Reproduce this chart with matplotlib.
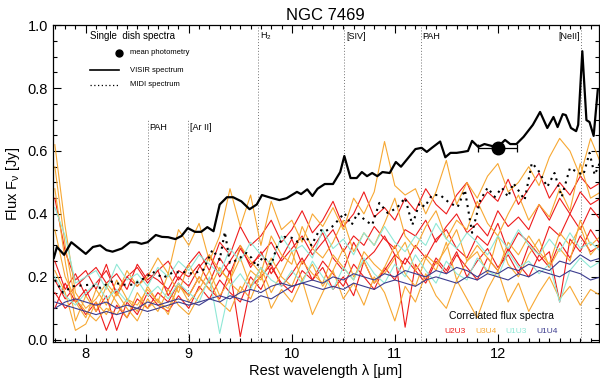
import numpy as np
import matplotlib
matplotlib.use("Agg")
import matplotlib.pyplot as plt
from matplotlib.ticker import MultipleLocator

plt.rcParams['font.family'] = ['Liberation Sans', 'DejaVu Sans']
plt.rcParams['mathtext.default'] = 'regular'

# ---------------- single dish spectra ----------------
visir_wl = [7.69, 7.72, 7.79, 7.86, 8.00, 8.07, 8.14, 8.20, 8.26, 8.35, 8.43, 8.49, 8.54, 8.60,
            8.68, 8.74, 8.80, 8.87, 8.93, 8.99, 9.06, 9.12, 9.18, 9.24, 9.30, 9.37, 9.43, 9.51,
            9.59, 9.66, 9.71, 9.79, 9.88, 9.95, 10.05, 10.09, 10.15, 10.20, 10.25, 10.32, 10.40,
            10.47, 10.51, 10.57, 10.63, 10.68, 10.73, 10.78, 10.83, 10.88, 10.95, 11.01, 11.06,
            11.13, 11.20, 11.26, 11.31, 11.36, 11.44, 11.49, 11.54, 11.60, 11.66, 11.71, 11.75,
            11.81, 11.87, 11.94, 12.00, 12.07, 12.12, 12.18, 12.25, 12.34, 12.41, 12.48, 12.54,
            12.58, 12.63, 12.66, 12.71, 12.76, 12.78, 12.82, 12.86, 12.89, 12.93, 12.97]
visir_flux = [0.26, 0.295, 0.27, 0.31, 0.273, 0.295, 0.30, 0.285, 0.28, 0.29, 0.31, 0.31, 0.305,
              0.31, 0.333, 0.327, 0.326, 0.32, 0.33, 0.355, 0.343, 0.343, 0.358, 0.345, 0.43,
              0.453, 0.453, 0.44, 0.415, 0.43, 0.46, 0.452, 0.444, 0.45, 0.47, 0.463, 0.478,
              0.457, 0.48, 0.495, 0.495, 0.533, 0.584, 0.514, 0.514, 0.533, 0.52, 0.53, 0.52,
              0.533, 0.53, 0.565, 0.55, 0.578, 0.606, 0.61, 0.597, 0.61, 0.63, 0.58, 0.594,
              0.594, 0.597, 0.60, 0.632, 0.613, 0.622, 0.616, 0.613, 0.635, 0.622, 0.622, 0.645,
              0.683, 0.724, 0.673, 0.708, 0.676, 0.717, 0.714, 0.673, 0.663, 0.683, 0.917,
              0.698, 0.692, 0.648, 0.794]

midi_wl = [7.70, 7.78, 7.87, 8.04, 8.14, 8.25, 8.35, 8.46, 8.59, 8.65, 8.75, 8.84, 8.94, 9.04,
           9.14, 9.23, 9.30, 9.35, 9.40, 9.47, 9.56, 9.61, 9.66, 9.72, 9.80, 9.86, 9.93, 10.00,
           10.06, 10.14, 10.19, 10.27, 10.32, 10.39, 10.45, 10.51, 10.58, 10.64, 10.71, 10.78,
           10.85, 10.93, 11.02, 11.10, 11.17, 11.24, 11.29, 11.36, 11.44, 11.53, 11.61, 11.68,
           11.75, 11.83, 11.90, 11.97, 12.04, 12.10, 12.15, 12.21, 12.26, 12.33, 12.39, 12.48,
           12.55, 12.62, 12.70, 12.77, 12.83, 12.89, 12.94, 12.99]
midi_flux = [0.19, 0.15, 0.17, 0.175, 0.165, 0.185, 0.175, 0.175, 0.20, 0.216, 0.197, 0.213,
             0.216, 0.21, 0.222, 0.286, 0.254, 0.343, 0.244, 0.254, 0.276, 0.26, 0.232, 0.264,
             0.238, 0.30, 0.327, 0.324, 0.311, 0.327, 0.30, 0.35, 0.343, 0.359, 0.38, 0.403,
             0.365, 0.403, 0.38, 0.365, 0.435, 0.403, 0.419, 0.451, 0.365, 0.435, 0.422, 0.46,
             0.46, 0.435, 0.422, 0.476, 0.34, 0.444, 0.483, 0.454, 0.483, 0.454, 0.498, 0.47,
             0.444, 0.562, 0.54, 0.486, 0.53, 0.454, 0.546, 0.533, 0.524, 0.594, 0.524, 0.562]

phot_wl = 12.0
phot_flux = 0.61
phot_xerr = 0.19

# ---------------- correlated flux spectra ----------------
corr_wl = [7.7, 7.8, 7.9, 8.0, 8.1, 8.2, 8.3, 8.4, 8.5, 8.6, 8.7, 8.8, 8.9, 9.0, 9.1, 9.2, 9.3,
           9.4, 9.5, 9.6, 9.7, 9.8, 9.9, 10.0, 10.1, 10.2, 10.3, 10.4, 10.5, 10.6, 10.7, 10.8,
           10.9, 11.0, 11.1, 11.2, 11.3, 11.4, 11.5, 11.6, 11.7, 11.8, 11.9, 12.0, 12.1, 12.2,
           12.3, 12.4, 12.5, 12.6, 12.7, 12.8, 12.9, 13.0]

u2u3 = [
    [0.45, 0.28, 0.19, 0.22, 0.16, 0.24, 0.14, 0.20, 0.23, 0.18, 0.22, 0.25, 0.19, 0.24, 0.28,
     0.22, 0.31, 0.27, 0.36, 0.30, 0.33, 0.38, 0.31, 0.35, 0.41, 0.34, 0.38, 0.44, 0.36, 0.40,
     0.47, 0.39, 0.42, 0.38, 0.45, 0.41, 0.48, 0.43, 0.40, 0.46, 0.50, 0.42, 0.47, 0.44, 0.51,
     0.43, 0.48, 0.53, 0.45, 0.50, 0.46, 0.52, 0.48, 0.50],
    [0.25, 0.16, 0.21, 0.14, 0.18, 0.22, 0.15, 0.20, 0.17, 0.21, 0.19, 0.16, 0.22, 0.20, 0.24,
     0.18, 0.26, 0.21, 0.29, 0.24, 0.27, 0.31, 0.25, 0.29, 0.33, 0.27, 0.31, 0.35, 0.28, 0.33,
     0.30, 0.36, 0.32, 0.29, 0.35, 0.33, 0.38, 0.31, 0.36, 0.40, 0.34, 0.37, 0.33, 0.41, 0.36,
     0.39, 0.35, 0.43, 0.38, 0.45, 0.40, 0.47, 0.43, 0.45],
    [0.15, 0.10, 0.13, 0.08, 0.12, 0.03, 0.11, 0.07, 0.13, 0.10, 0.15, 0.12, 0.18, 0.14, 0.20,
     0.16, 0.13, 0.22, 0.01, 0.17, 0.20, 0.24, 0.17, 0.21, 0.26, 0.19, 0.23, 0.16, 0.20, 0.14,
     0.25, 0.18, 0.22, 0.27, 0.04, 0.24, 0.19, 0.26, 0.22, 0.28, 0.20, 0.25, 0.29, 0.23, 0.27,
     0.21, 0.30, 0.25, 0.28, 0.12, 0.32, 0.28, 0.35, 0.30],
    [0.10, 0.18, 0.12, 0.16, 0.09, 0.14, 0.03, 0.12, 0.08, 0.15, 0.11, 0.09, 0.14, 0.10, 0.17,
     0.13, 0.19, 0.15, 0.12, 0.20, 0.16, 0.23, 0.18, 0.15, 0.22, 0.19, 0.25, 0.21, 0.17, 0.24,
     0.20, 0.16, 0.23, 0.19, 0.26, 0.22, 0.18, 0.25, 0.21, 0.27, 0.23, 0.19, 0.26, 0.22, 0.29,
     0.24, 0.20, 0.27, 0.23, 0.31, 0.26, 0.33, 0.28, 0.30],
    [0.19, 0.13, 0.17, 0.20, 0.23, 0.18, 0.21, 0.16, 0.24, 0.19, 0.22, 0.14, 0.20, 0.17, 0.23,
     0.27, 0.20, 0.25, 0.30, 0.23, 0.28, 0.21, 0.26, 0.32, 0.24, 0.29, 0.34, 0.26, 0.22, 0.31,
     0.25, 0.28, 0.33, 0.27, 0.24, 0.30, 0.26, 0.32, 0.35, 0.29, 0.26, 0.33, 0.30, 0.37, 0.28,
     0.34, 0.31, 0.27, 0.36, 0.33, 0.40, 0.35, 0.42, 0.38],
]

u3u4 = [
    [0.62, 0.36, 0.15, 0.10, 0.13, 0.18, 0.14, 0.22, 0.17, 0.20, 0.26, 0.21, 0.35, 0.30, 0.37,
     0.25, 0.33, 0.48, 0.36, 0.46, 0.30, 0.44, 0.35, 0.38, 0.31, 0.40, 0.36, 0.42, 0.35, 0.45,
     0.40, 0.47, 0.63, 0.49, 0.46, 0.48, 0.40, 0.47, 0.57, 0.43, 0.50, 0.45, 0.52, 0.56, 0.47,
     0.50, 0.55, 0.49, 0.58, 0.64, 0.60, 0.52, 0.64, 0.56],
    [0.55, 0.30, 0.12, 0.07, 0.16, 0.11, 0.19, 0.13, 0.09, 0.17, 0.12, 0.21, 0.15, 0.24, 0.18,
     0.27, 0.22, 0.19, 0.30, 0.25, 0.21, 0.33, 0.27, 0.24, 0.36, 0.29, 0.26, 0.31, 0.38, 0.28,
     0.34, 0.30, 0.37, 0.45, 0.33, 0.29, 0.36, 0.41, 0.32, 0.38, 0.35, 0.44, 0.37, 0.33, 0.40,
     0.46, 0.38, 0.43, 0.39, 0.48, 0.41, 0.56, 0.45, 0.47],
    [0.48, 0.25, 0.06, 0.14, 0.09, 0.17, 0.12, 0.07, 0.15, 0.10, 0.13, 0.08, 0.18, 0.12, 0.16,
     0.22, 0.14, 0.19, 0.26, 0.17, 0.23, 0.15, 0.21, 0.28, 0.19, 0.24, 0.17, 0.22, 0.29, 0.20,
     0.25, 0.18, 0.23, 0.30, 0.21, 0.17, 0.26, 0.22, 0.31, 0.19, 0.25, 0.28, 0.21, 0.33, 0.24,
     0.20, 0.27, 0.32, 0.23, 0.29, 0.25, 0.38, 0.30, 0.33],
    [0.22, 0.15, 0.03, 0.05, 0.12, 0.08, 0.15, 0.10, 0.06, 0.13, 0.09, 0.16, 0.11, 0.08, 0.14,
     0.19, 0.12, 0.09, 0.17, 0.13, 0.21, 0.10, 0.16, 0.12, 0.19, 0.08, 0.15, 0.22, 0.13, 0.18,
     0.11, 0.20, 0.15, 0.06, 0.17, 0.12, 0.21, 0.14, 0.10, 0.19, 0.13, 0.07, 0.16, 0.22, 0.12,
     0.18, 0.09, 0.15, 0.20, 0.13, 0.17, 0.11, 0.16, 0.14],
    [0.35, 0.20, 0.13, 0.09, 0.06, 0.10, 0.08, 0.13, 0.11, 0.16, 0.12, 0.10, 0.17, 0.14, 0.20,
     0.16, 0.23, 0.18, 0.15, 0.22, 0.19, 0.26, 0.20, 0.17, 0.25, 0.21, 0.18, 0.27, 0.23, 0.19,
     0.28, 0.24, 0.21, 0.26, 0.31, 0.22, 0.27, 0.24, 0.29, 0.35, 0.25, 0.30, 0.26, 0.22, 0.31,
     0.27, 0.33, 0.28, 0.24, 0.34, 0.30, 0.36, 0.27, 0.31],
]

u1u3 = [
    [0.42, 0.33, 0.18, 0.20, 0.22, 0.16, 0.24, 0.19, 0.21, 0.17, 0.23, 0.20, 0.25, 0.22, 0.27,
     0.24, 0.21, 0.29, 0.25, 0.31, 0.27, 0.24, 0.33, 0.28, 0.30, 0.26, 0.35, 0.29, 0.32, 0.27,
     0.34, 0.30, 0.36, 0.31, 0.28, 0.33, 0.30, 0.37, 0.32, 0.29, 0.34, 0.31, 0.27, 0.33, 0.29,
     0.35, 0.30, 0.27, 0.32, 0.28, 0.34, 0.29, 0.31, 0.28],
    [0.20, 0.14, 0.11, 0.15, 0.18, 0.13, 0.16, 0.12, 0.19, 0.14, 0.17, 0.13, 0.18, 0.15, 0.12,
     0.20, 0.02, 0.17, 0.21, 0.16, 0.23, 0.19, 0.17, 0.22, 0.18, 0.25, 0.20, 0.16, 0.23, 0.19,
     0.26, 0.21, 0.18, 0.24, 0.20, 0.27, 0.22, 0.18, 0.25, 0.21, 0.19, 0.26, 0.22, 0.20, 0.28,
     0.23, 0.25, 0.21, 0.24, 0.12, 0.22, 0.26, 0.23, 0.25],
]

u1u4 = [
    [0.12, 0.11, 0.10, 0.09, 0.08, 0.09, 0.08, 0.09, 0.10, 0.09, 0.10, 0.11, 0.12, 0.11, 0.12,
     0.13, 0.14, 0.13, 0.15, 0.16, 0.15, 0.17, 0.18, 0.17, 0.18, 0.19, 0.18, 0.20, 0.19, 0.21,
     0.20, 0.19, 0.21, 0.20, 0.22, 0.21, 0.20, 0.22, 0.21, 0.23, 0.22, 0.20, 0.22, 0.21, 0.23,
     0.22, 0.24, 0.23, 0.22, 0.25, 0.24, 0.27, 0.25, 0.26],
    [0.10, 0.12, 0.13, 0.12, 0.11, 0.12, 0.10, 0.11, 0.10, 0.12, 0.11, 0.12, 0.13, 0.12, 0.11,
     0.13, 0.12, 0.14, 0.13, 0.12, 0.14, 0.13, 0.15, 0.17, 0.18, 0.17, 0.16, 0.17, 0.16, 0.18,
     0.17, 0.16, 0.18, 0.19, 0.18, 0.17, 0.19, 0.20, 0.19, 0.18, 0.20, 0.19, 0.21, 0.20, 0.19,
     0.21, 0.20, 0.22, 0.21, 0.20, 0.22, 0.21, 0.19, 0.20],
]

baselines = ["U2U3", "U3U4", "U1U3", "U1U4"]
base_colors = ["#ee1c1c", "#f7a833", "#8fe8d6", "#3c3c8e"]

# emission features
line_wl = [8.60, 8.99, 9.67, 10.51, 11.25, 12.81]
line_names = ["PAH", "[Ar II]", "H$_2$", "[SIV]", "PAH", "[NeII]"]

fig = plt.figure(figsize=(6.0, 3.86), dpi=100)
ax = fig.add_axes([0.088, 0.114, 0.910, 0.821])

# vertical dotted markers
for i, (w, name) in enumerate(zip(line_wl, line_names)):
    top = 0.70 if i < 2 else 1.0
    ax.plot([w, w], [-0.01, top], ls=(0, (1, 2)), color="0.45", lw=0.7, zorder=1)
    ty = 0.673 if i < 2 else 0.965
    if name == "[NeII]":
        ax.text(w - 0.01, ty, name, fontsize=6.5, ha="right", va="center")
    else:
        ax.text(w + 0.02, ty, name, fontsize=6.5, ha="left", va="center")

# correlated spectra
for group, col in zip([u2u3, u3u4, u1u3, u1u4], base_colors):
    for spec in group:
        ax.plot(corr_wl, spec, color=col, lw=0.8, zorder=2)

# single dish
ax.plot(midi_wl, midi_flux, color="black", ls=(0, (1, 2.2)), lw=1.5, zorder=3)
ax.plot(visir_wl, visir_flux, color="black", lw=1.6, zorder=4)
ax.errorbar(phot_wl, phot_flux, xerr=phot_xerr, fmt="o", color="black", ms=9,
            elinewidth=0.9, capsize=3, capthick=0.9, zorder=5)

ax.set_xlim(7.68, 12.98)
ax.set_ylim(-0.007, 1.0)
ax.xaxis.set_major_locator(MultipleLocator(1))
ax.xaxis.set_minor_locator(MultipleLocator(0.1))
ax.yaxis.set_major_locator(MultipleLocator(0.2))
ax.yaxis.set_minor_locator(MultipleLocator(0.05))
ax.tick_params(which="both", direction="in", top=True, right=True, labelsize=10.5, width=0.8)
ax.tick_params(which="major", length=6)
ax.tick_params(which="minor", length=3)
ax.set_yticks([0, 0.2, 0.4, 0.6, 0.8, 1.0])
ax.set_yticklabels(["0.0", "0.2", "0.4", "0.6", "0.8", "1.0"])
ax.set_xticks([8, 9, 10, 11, 12])
for sp in ax.spines.values():
    sp.set_linewidth(0.9)

ax.set_xlabel("Rest wavelength λ [μm]", fontsize=10.5, labelpad=2)
ax.set_ylabel("Flux F$_{\\nu}$ [Jy]", fontsize=10.5, labelpad=4)
ax.set_title("NGC 7469", fontsize=12, pad=4)

# single dish legend
ax.text(0.068, 0.965, "Single  dish spectra", transform=ax.transAxes, fontsize=7, va="center")
ax.plot([0.121], [0.912], "o", color="black", ms=5, transform=ax.transAxes)
ax.text(0.141, 0.912, "mean photometry", transform=ax.transAxes, fontsize=5.5, va="center")
ax.plot([0.068, 0.121], [0.858, 0.858], color="black", lw=1.2, transform=ax.transAxes)
ax.text(0.141, 0.858, "VISIR spectrum", transform=ax.transAxes, fontsize=5.5, va="center")
ax.plot([0.068, 0.121], [0.811, 0.811], color="black", lw=0.9, ls=(0, (1, 2)),
        transform=ax.transAxes)
ax.text(0.141, 0.811, "MIDI spectrum", transform=ax.transAxes, fontsize=5.5, va="center")

# correlated flux legend
ax.text(0.822, 0.082, "Correlated flux spectra", transform=ax.transAxes, fontsize=7.5,
        ha="center", va="center")
for bx, name, col in zip([0.736, 0.793, 0.848, 0.905], baselines, base_colors):
    ax.text(bx, 0.032, name, transform=ax.transAxes, fontsize=6, ha="center",
            va="center", color=col)

fig.savefig("out.png", dpi=100)
